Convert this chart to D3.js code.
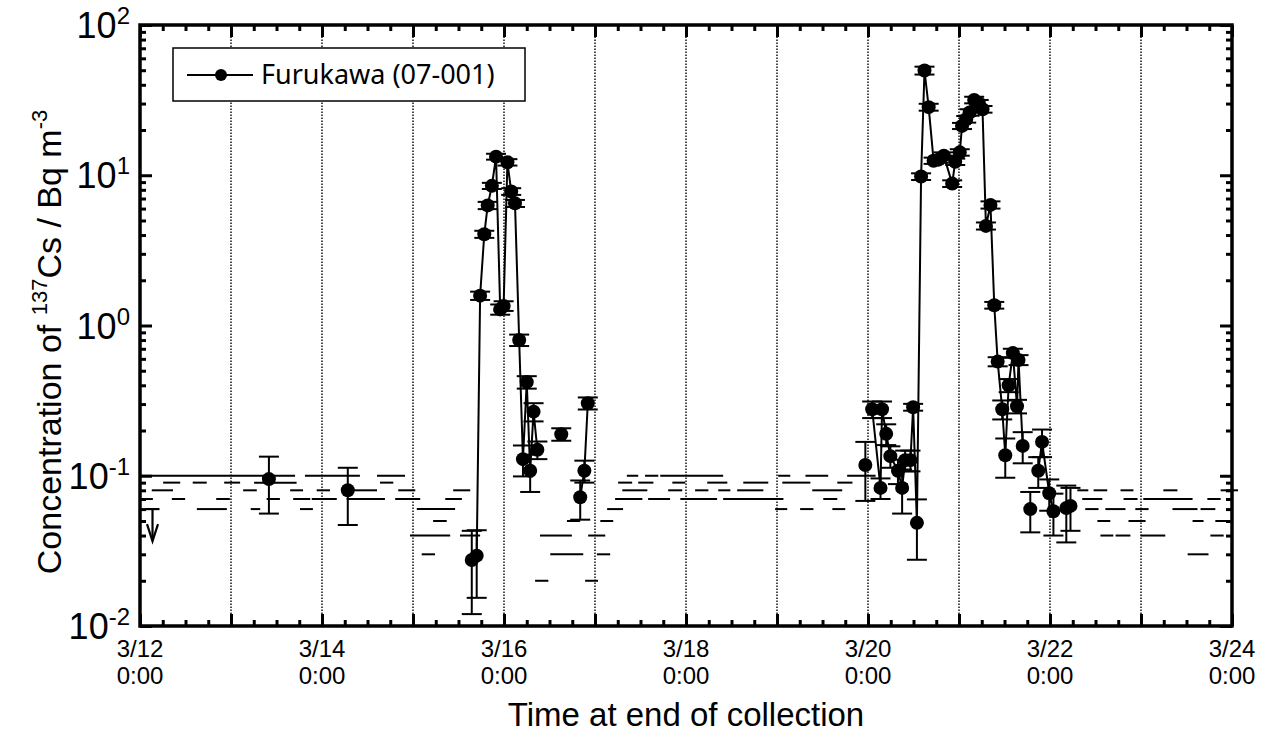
<!DOCTYPE html>
<html>
<head>
<meta charset="utf-8">
<script src="https://cdn.jsdelivr.net/npm/d3@7"></script>
<style>
body { margin: 0; background: #fff; }
text { font-family: "Liberation Sans", Arial, Helvetica, sans-serif; fill: #000; }
</style>
</head>
<body>
<div id="chart"></div>
<script>
// time axis: hours after 3/12 0:00 (time at end of collection)
var dayLabels = ["3/12", "3/14", "3/16", "3/18", "3/20", "3/22", "3/24"];
var yDecades = [1e-2, 1e-1, 1e0, 1e1, 1e2];
var yExponents = ["-2", "-1", "0", "1", "2"];

// detected samples [hour, Bq m-3, error]; null = break in the line
var detected = [
  [34.0, 0.095, 0.039], null,
  [54.8, 0.080, 0.033], null,
  [87.5, 0.0275, 0.0155], [88.8, 0.0294, 0.014], [89.7, 1.58, 0.1], [90.8, 4.05, 0.22],
  [91.7, 6.3, 0.35], [92.8, 8.5, 0.4], [93.9, 13.3, 0.6], [95.0, 1.28, 0.1],
  [95.9, 1.35, 0.1], [96.9, 12.2, 0.6], [97.9, 7.8, 0.4], [98.9, 6.5, 0.35],
  [100.0, 0.80, 0.07], [101.0, 0.129, 0.03], [102.0, 0.42, 0.04], [102.9, 0.108, 0.03],
  [103.8, 0.267, 0.037], [104.8, 0.149, 0.02], null,
  [111.1, 0.189, 0.018], null,
  [116.1, 0.072, 0.021], [117.2, 0.108, 0.018], [118.1, 0.304, 0.028], null,
  [191.3, 0.118, 0.05], null,
  [193.1, 0.277, 0.035], [195.3, 0.083, 0.013], [195.7, 0.277, 0.035], [196.8, 0.19, 0.03],
  [197.9, 0.135, 0.022], [199.9, 0.108, 0.02], [201.0, 0.083, 0.027], [201.8, 0.127, 0.02],
  [203.2, 0.127, 0.02], [203.9, 0.286, 0.015], [204.9, 0.0486, 0.021], [206.0, 9.8, 0.5],
  [206.9, 49.8, 3.0], [208.0, 28.4, 1.5], [209.3, 12.5, 0.6], [210.6, 12.7, 0.6],
  [212.0, 13.5, 0.7], [214.2, 8.8, 0.45], [215.0, 12.3, 0.6], [216.2, 14.2, 0.7],
  [216.8, 21.3, 1.0], [217.9, 23.6, 1.2], [218.8, 26.2, 1.3], [220.0, 31.7, 1.6],
  [221.2, 30.2, 1.5], [222.2, 27.5, 1.4], [223.1, 4.6, 0.25], [224.3, 6.35, 0.35],
  [225.3, 1.365, 0.07], [226.2, 0.575, 0.04], [227.4, 0.277, 0.04], [228.2, 0.137, 0.04],
  [229.1, 0.40, 0.04], [230.2, 0.655, 0.045], [231.3, 0.29, 0.03], [231.7, 0.59, 0.045],
  [232.8, 0.158, 0.037], null,
  [234.8, 0.06, 0.018], null,
  [236.9, 0.108, 0.025], [237.9, 0.168, 0.035], [239.8, 0.0765, 0.018], [240.9, 0.058, 0.018], null,
  [244.3, 0.061, 0.025], [245.4, 0.063, 0.02]
];

// not detected: detection limit over [start hour, end hour, limit]
var notDetected = [
  [0, 40.9, 0.1], [43.5, 58, 0.1], [62.5, 69.9, 0.1], [128.4, 131.4, 0.1], [133.2, 136.7, 0.1],
  [137.2, 153.8, 0.1], [168.3, 171.5, 0.1], [175.5, 181.5, 0.1], [186.5, 194, 0.1],
  [6.1, 10.6, 0.09], [13.9, 17.6, 0.09], [22.2, 26.4, 0.09], [30.1, 41.3, 0.09], [63.3, 66.8, 0.09],
  [126.1, 129.8, 0.09], [131.4, 135.4, 0.09], [140.4, 143.8, 0.09], [149.6, 154.9, 0.09],
  [159.1, 165.7, 0.09], [169.4, 176.8, 0.09], [183.9, 187.9, 0.09],
  [3.1, 8.7, 0.08], [27.2, 30.8, 0.08], [39.6, 43, 0.08], [46.6, 50.1, 0.08], [55.4, 62.5, 0.08],
  [68.1, 72.6, 0.08], [82.6, 87.1, 0.08], [127.2, 133.8, 0.08], [139.3, 143, 0.08],
  [146.4, 149.9, 0.08], [152.5, 155.7, 0.08], [157.5, 164.4, 0.08], [177.3, 185.2, 0.08],
  [247.2, 250.1, 0.08], [251.5, 255.1, 0.08], [258.6, 262, 0.08], [269.9, 273.6, 0.08], [285, 289.7, 0.08],
  [0.8, 3.4, 0.07], [8.4, 11.9, 0.07], [20.1, 23.7, 0.07], [33.4, 36.9, 0.07], [40.4, 44.9, 0.07],
  [45.3, 51.9, 0.07], [54.5, 64.6, 0.07], [67.3, 73.9, 0.07], [80.5, 84.9, 0.07],
  [125.3, 132.5, 0.07], [134, 139.8, 0.07], [142.5, 152.2, 0.07], [153.8, 169.7, 0.07],
  [180.2, 183.9, 0.07], [248.5, 253.8, 0.07], [259.4, 263.1, 0.07], [264.6, 277.6, 0.07], [281.5, 285, 0.07],
  [15, 22.9, 0.06], [29.2, 31.7, 0.06], [42.2, 45.6, 0.06], [73, 83.1, 0.06], [123.2, 127.4, 0.06],
  [167.5, 170.7, 0.06], [174.1, 177.6, 0.06], [182.6, 186, 0.06], [249.3, 252.8, 0.06],
  [254.6, 259.9, 0.06], [262.5, 266, 0.06], [272.3, 278.9, 0.06], [279.7, 283.6, 0.06],
  [77.3, 80.9, 0.05], [112.6, 116.1, 0.05], [121.4, 124.8, 0.05], [252.5, 255.9, 0.05],
  [260.7, 265.2, 0.05], [277.6, 280.5, 0.05], [283.6, 286.8, 0.05],
  [71.2, 81.8, 0.04], [84.4, 89.7, 0.04], [105.5, 113.9, 0.04], [118.2, 122.7, 0.04],
  [253.3, 256.7, 0.04], [257.3, 261.2, 0.04], [263.9, 270.4, 0.04], [282.3, 285.8, 0.04],
  [74.3, 77.8, 0.03], [108.2, 116.9, 0.03], [120.5, 124, 0.03], [276.3, 281.8, 0.03],
  [104.2, 107.7, 0.02], [117.4, 120.8, 0.02]
];

// upper limit shown with a down arrow [hour, limit]
var upperLimits = [[3.3, 0.06]];

var width = 1269, height = 734;
var margin = {top: 25, right: 37, bottom: 108, left: 140};

var svg = d3.select("#chart").append("svg")
    .attr("width", width)
    .attr("height", height);

var x = d3.scaleLinear().domain([0, 288]).range([margin.left, width - margin.right]);
var y = d3.scaleLog().domain([1e-2, 1e2]).range([height - margin.bottom, margin.top]);

var dayTicks = d3.range(0, 289, 24);
var sixHourTicks = d3.range(0, 289, 6).filter(h => h % 24 != 0);
var minorY = [];
for (var i = 0; i < yDecades.length - 1; i++) {
  for (var k = 2; k <= 9; k++) minorY.push(yDecades[i] * k);
}

// dotted day lines
svg.append("g")
  .selectAll("line")
  .data(dayTicks.slice(1, -1))
  .join("line")
    .attr("x1", d => x(d)).attr("x2", d => x(d))
    .attr("y1", y(1e-2)).attr("y2", y(1e2))
    .attr("stroke", "#111")
    .attr("stroke-width", 1.5)
    .attr("stroke-dasharray", "1.5,1.5");

// detection limits
svg.append("g")
  .selectAll("line")
  .data(notDetected)
  .join("line")
    .attr("x1", d => x(d[0])).attr("x2", d => Math.min(x(d[1]), x(288) + 6))
    .attr("y1", d => y(d[2])).attr("y2", d => y(d[2]))
    .attr("stroke", "#000")
    .attr("stroke-width", 2);

var arrows = svg.append("g")
  .selectAll("g")
  .data(upperLimits)
  .join("g")
    .attr("transform", d => `translate(${x(d[0])},${y(d[1])})`)
    .attr("stroke", "#000")
    .attr("fill", "none")
    .attr("stroke-width", 2.2);
arrows.append("line").attr("x1", -7).attr("x2", 7);
arrows.append("line").attr("y1", 0).attr("y2", 32);
arrows.append("path").attr("d", "M-5.5,15L0,32L5.5,15");

var points = detected.filter(d => d);

// error bars
var err = svg.append("g")
  .attr("stroke", "#000")
  .attr("stroke-width", 2)
  .selectAll("g")
  .data(points)
  .join("g");
err.append("line")
    .attr("x1", d => x(d[0])).attr("x2", d => x(d[0]))
    .attr("y1", d => y(d[1] - d[2])).attr("y2", d => y(d[1] + d[2]));
err.append("line")
    .attr("x1", d => x(d[0]) - 10).attr("x2", d => x(d[0]) + 10)
    .attr("y1", d => y(d[1] + d[2])).attr("y2", d => y(d[1] + d[2]));
err.append("line")
    .attr("x1", d => x(d[0]) - 10).attr("x2", d => x(d[0]) + 10)
    .attr("y1", d => y(d[1] - d[2])).attr("y2", d => y(d[1] - d[2]));

var line = d3.line()
  .defined(d => d != null)
  .x(d => x(d[0]))
  .y(d => y(d[1]));

svg.append("path")
  .datum(detected)
  .attr("d", line)
  .attr("fill", "none")
  .attr("stroke", "#000")
  .attr("stroke-width", 2);

svg.append("g")
  .selectAll("circle")
  .data(points)
  .join("circle")
    .attr("cx", d => x(d[0]))
    .attr("cy", d => y(d[1]))
    .attr("r", 7)
    .attr("fill", "#000");

// frame and inward ticks on all four sides
function styleAxis(g) {
  g.selectAll(".domain").remove();
  g.selectAll(".tick line").attr("stroke", "#000").attr("stroke-width", 3);
  g.selectAll("text").remove();
}
var bottomY = y(1e-2), topY = y(1e2), leftX = x(0), rightX = x(288);

svg.append("g").attr("transform", `translate(0,${bottomY})`)
  .call(d3.axisBottom(x).tickValues(dayTicks).tickSize(-12)).call(styleAxis);
svg.append("g").attr("transform", `translate(0,${bottomY})`)
  .call(d3.axisBottom(x).tickValues(sixHourTicks).tickSize(-6)).call(styleAxis);
svg.append("g").attr("transform", `translate(0,${topY})`)
  .call(d3.axisTop(x).tickValues(dayTicks).tickSize(-12)).call(styleAxis);
svg.append("g").attr("transform", `translate(0,${topY})`)
  .call(d3.axisTop(x).tickValues(sixHourTicks).tickSize(-6)).call(styleAxis);
svg.append("g").attr("transform", `translate(${leftX},0)`)
  .call(d3.axisLeft(y).tickValues(yDecades).tickSize(-12)).call(styleAxis);
svg.append("g").attr("transform", `translate(${leftX},0)`)
  .call(d3.axisLeft(y).tickValues(minorY).tickSize(-6)).call(styleAxis);
svg.append("g").attr("transform", `translate(${rightX},0)`)
  .call(d3.axisRight(y).tickValues(yDecades).tickSize(-12)).call(styleAxis);
svg.append("g").attr("transform", `translate(${rightX},0)`)
  .call(d3.axisRight(y).tickValues(minorY).tickSize(-6)).call(styleAxis);

svg.append("rect")
  .attr("x", leftX).attr("y", topY)
  .attr("width", rightX - leftX).attr("height", bottomY - topY)
  .attr("fill", "none")
  .attr("stroke", "#000")
  .attr("stroke-width", 3.5);

// tick labels, two lines each
var xLab = svg.append("g")
  .selectAll("g")
  .data(dayLabels)
  .join("g")
    .attr("font-size", 24)
    .attr("text-anchor", "middle")
    .attr("transform", (d, i) => `translate(${x(i * 48)},0)`);
xLab.append("text").attr("y", bottomY + 31).text(d => d);
xLab.append("text").attr("y", bottomY + 58).text("0:00");

var yLab = svg.append("g")
  .selectAll("text")
  .data(yDecades)
  .join("text")
    .attr("text-anchor", "end")
    .attr("font-size", 36)
    .attr("x", leftX - 10)
    .attr("y", d => y(d) + 13);
yLab.append("tspan").text("10");
yLab.append("tspan").attr("font-size", 24).attr("dy", -14).text((d, i) => yExponents[i]);

svg.append("text")
  .attr("text-anchor", "middle")
  .attr("font-size", 33)
  .attr("x", (leftX + rightX) / 2)
  .attr("y", 726)
  .text("Time at end of collection");

var yTitle = svg.append("text")
  .attr("text-anchor", "middle")
  .attr("font-size", 34)
  .attr("transform", "translate(61,342) rotate(-90)");
yTitle.append("tspan").text("Concentration of ");
yTitle.append("tspan").attr("font-size", 22).attr("dy", -14).text("137");
yTitle.append("tspan").attr("dy", 14).text("Cs / Bq m");
yTitle.append("tspan").attr("font-size", 22).attr("dy", -14).text("-3");

// legend
var legend = svg.append("g");
legend.append("rect")
  .attr("x", 173).attr("y", 48).attr("width", 352).attr("height", 53)
  .attr("fill", "#fff").attr("stroke", "#000").attr("stroke-width", 1.5);
legend.append("line")
  .attr("x1", 187).attr("x2", 253).attr("y1", 75).attr("y2", 75)
  .attr("stroke", "#000").attr("stroke-width", 2);
legend.append("circle").attr("cx", 221).attr("cy", 75).attr("r", 6).attr("fill", "#000");
legend.append("text")
  .attr("x", 261).attr("y", 84)
  .style("font-family", "'Noto Sans', 'Open Sans', sans-serif")
  .attr("font-size", 27)
  .text("Furukawa (07-001)");
</script>
</body>
</html>
